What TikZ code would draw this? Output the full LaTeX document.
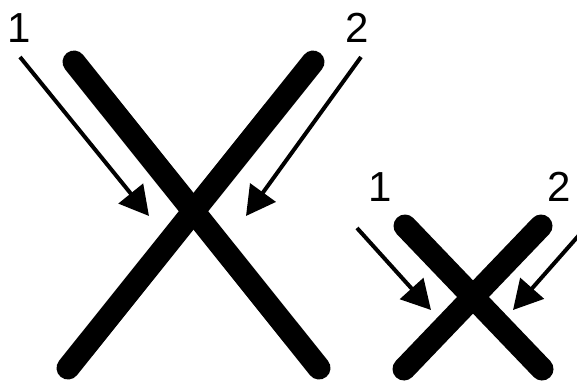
\documentclass[tikz,border=0pt]{standalone}
\usepackage{fontspec}
\setmainfont{Liberation Sans}
\usetikzlibrary{arrows.meta, positioning}
\definecolor{mydark}{RGB}{0,0,0}
\tikzset{
  bar/.style={line width=23pt, line cap=round, color=mydark},
  pointer/.style={-{Triangle[length=29pt, width=31pt]}, line width=4pt,
    color=mydark},
  numlabel/.style={font=\fontsize{42}{42}\selectfont, inner sep=0pt,
    text=mydark}
}
\begin{document}
\begin{tikzpicture}[x=1pt, y=-1pt]
  \useasboundingbox (0,0) rectangle (577,381);
  % Large cross
  \draw[bar] (74,62) -- (319,368);
  \draw[bar] (313,62) -- (68,368);
  \node[numlabel] (bigone) at (19,28) {1};
  \node[numlabel] (bigtwo) at (357,28) {2};
  \coordinate (bigstartA) at (20,57);
  \coordinate (bigendA) at (149,216);
  \coordinate (bigstartB) at (361,57);
  \coordinate (bigendB) at (246,216);
  \draw[pointer] (bigstartA) -- (bigendA);
  \draw[pointer] (bigstartB) -- (bigendB);

  % Small cross
  \draw[bar] (405,226) -- (542,369);
  \draw[bar] (541,226) -- (404,369);
  \node[numlabel] (smallone) at (380,187) {1};
  \node[numlabel] (smalltwo) at (559,187) {2};
  \coordinate (smallstartA) at (357,228);
  \coordinate (smallendA) at (431,310);
  \coordinate (smallstartB) at (580,234);
  \coordinate (smallendB) at (513,310);
  \draw[pointer] (smallstartA) -- (smallendA);
  \draw[pointer] (smallstartB) -- (smallendB);
\end{tikzpicture}
\end{document}
